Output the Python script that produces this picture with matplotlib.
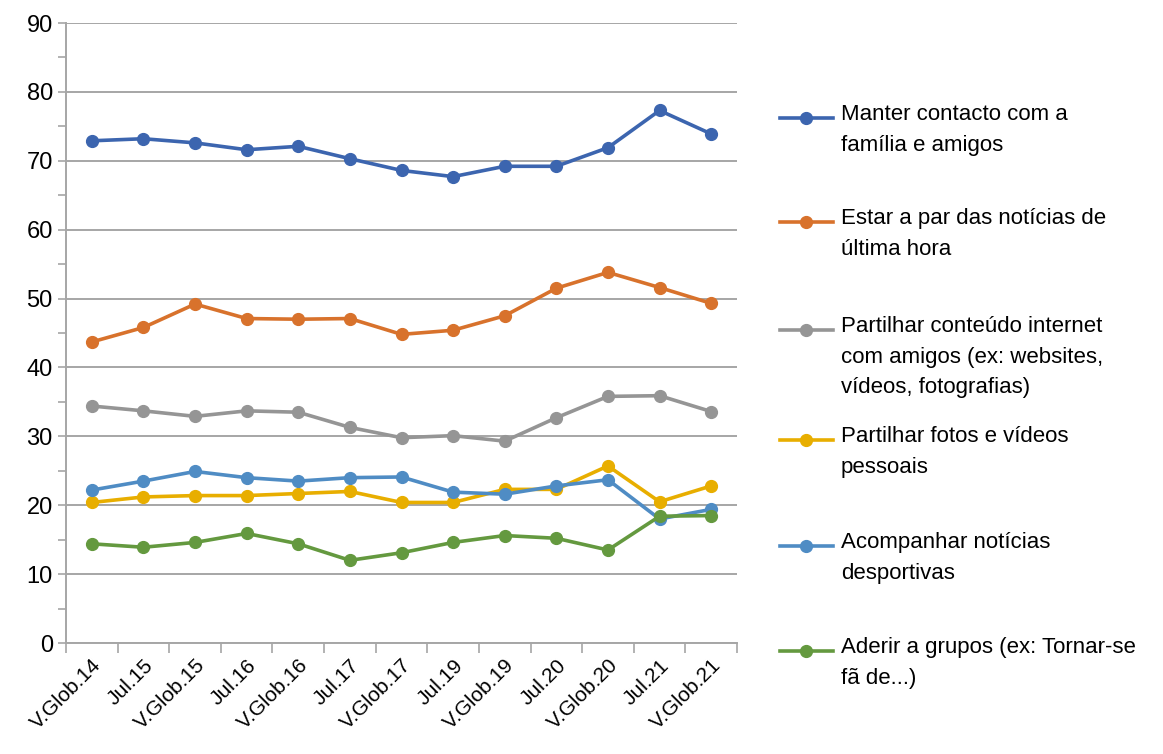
import numpy as np
import matplotlib.pyplot as plt
from matplotlib.lines import Line2D
from matplotlib.ticker import MultipleLocator

plt.rcParams['font.family'] = ['Liberation Sans', 'DejaVu Sans']

# Vagas / inquéritos
periodos = ['V.Glob.14', 'Jul.15', 'V.Glob.15', 'Jul.16', 'V.Glob.16', 'Jul.17',
            'V.Glob.17', 'Jul.19', 'V.Glob.19', 'Jul.20', 'V.Glob.20', 'Jul.21', 'V.Glob.21']

manter_contacto = [72.9, 73.2, 72.6, 71.6, 72.1, 70.3, 68.6, 67.7, 69.2, 69.2, 71.9, 77.3, 73.9]
noticias_hora = [43.7, 45.8, 49.2, 47.1, 47.0, 47.1, 44.8, 45.4, 47.5, 51.5, 53.8, 51.6, 49.3]
partilhar_conteudo = [34.4, 33.7, 32.9, 33.7, 33.5, 31.3, 29.8, 30.1, 29.3, 32.7, 35.8, 35.9, 33.6]
partilhar_fotos = [20.4, 21.2, 21.4, 21.4, 21.7, 22.0, 20.4, 20.4, 22.3, 22.3, 25.7, 20.5, 22.8]
noticias_desporto = [22.2, 23.5, 24.9, 24.0, 23.5, 24.0, 24.1, 21.9, 21.6, 22.8, 23.7, 18.0, 19.4]
aderir_grupos = [14.4, 13.9, 14.6, 15.9, 14.4, 12.0, 13.1, 14.6, 15.6, 15.2, 13.5, 18.4, 18.5]

series = [
    ('Manter contacto com a\nfamília e amigos', manter_contacto, '#3C65AF'),
    ('Estar a par das notícias de\núltima hora', noticias_hora, '#D8722C'),
    ('Partilhar conteúdo internet\ncom amigos (ex: websites,\nvídeos, fotografias)', partilhar_conteudo, '#959595'),
    ('Partilhar fotos e vídeos\npessoais', partilhar_fotos, '#E8AE00'),
    ('Acompanhar notícias\ndesportivas', noticias_desporto, '#4F8CC4'),
    ('Aderir a grupos (ex: Tornar-se\nfã de...)', aderir_grupos, '#64993F'),
]

fig = plt.figure(figsize=(11.63, 7.54), dpi=100)
ax = fig.add_axes([66 / 1163, 1 - 643 / 754, 671 / 1163, 620 / 754])

x = np.arange(len(periodos))
for nome, valores, cor in series:
    ax.plot(x, valores, color=cor, linewidth=2.6, marker='o', markersize=8.5)

ax.set_xlim(-0.5, len(periodos) - 0.5)
ax.set_ylim(0, 90)
ax.yaxis.set_major_locator(MultipleLocator(10))
ax.yaxis.set_minor_locator(MultipleLocator(5))
ax.grid(axis='y', which='major', color='#A6A6A6', linewidth=1.4)
ax.set_axisbelow(True)

# ticks do eixo x nas fronteiras entre categorias
ax.set_xticks(np.arange(len(periodos) + 1) - 0.5)
ax.set_xticklabels([])
ax.set_xticks(x, minor=True)
ax.set_xticklabels(periodos, minor=True, rotation=45, ha='right', rotation_mode='anchor',
                   fontsize=15)
ax.tick_params(axis='x', which='minor', length=0, pad=9)
ax.tick_params(axis='x', which='major', length=7, color='#A6A6A6', width=1.2)
ax.tick_params(axis='y', which='both', length=6, color='#A6A6A6', width=1.2, labelsize=17)

for lado in ['top', 'right']:
    ax.spines[lado].set_visible(False)
for lado in ['left', 'bottom']:
    ax.spines[lado].set_color('#A6A6A6')
    ax.spines[lado].set_linewidth(1.4)

# legenda à direita, com o traço alinhado à primeira linha do texto
leg_y = [118, 222, 330, 440, 546, 651]
for (nome, valores, cor), yp in zip(series, leg_y):
    yf = 1 - yp / 754
    fig.add_artist(Line2D([780 / 1163, 833 / 1163], [yf, yf], color=cor, linewidth=2.6,
                          transform=fig.transFigure))
    fig.add_artist(Line2D([806 / 1163], [yf], color=cor, marker='o', markersize=8.5,
                          transform=fig.transFigure))
    fig.text(841 / 1163, yf + 14 / 754, nome, fontsize=16, va='top', ha='left',
             linespacing=1.6)

fig.savefig('out.png', dpi=100)
